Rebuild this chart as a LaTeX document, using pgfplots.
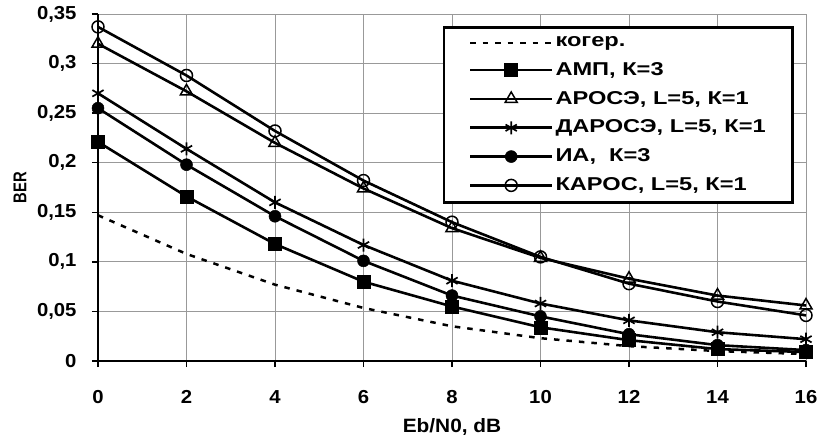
\documentclass[border=0pt]{standalone}
\usepackage{fontspec}
\setmainfont{Liberation Sans}
\newfontfamily\tickfont[FakeStretch=1.08]{Liberation Sans}
\newfontfamily\legfont[FakeStretch=1.27]{Liberation Sans}
\newfontfamily\berfont[FakeStretch=0.8]{Liberation Sans}
\usepackage{pgfplots}
\pgfplotsset{compat=1.18}
\newcommand\fA{\tickfont\fontsize{18.8bp}{22bp}\selectfont\bfseries}
\newcommand\fX{\tickfont\fontsize{19.3bp}{22bp}\selectfont\bfseries}
\newcommand\fL{\legfont\fontsize{18.6bp}{22bp}\selectfont\bfseries}
\newcommand\fB{\berfont\fontsize{18.5bp}{22bp}\selectfont\bfseries}
\begin{document}
\fA
\begin{tikzpicture}
\useasboundingbox (-98bp,-83bp) rectangle (722bp,361bp);
\begin{axis}[
  scale only axis, width=708bp, height=347bp,
  at={(0,0)}, anchor=south west,
  xmin=0, xmax=16, ymin=0, ymax=0.35,
  xtick={0,2,...,16},
  xticklabels={0,2,4,6,8,10,12,14,16},
  ytick={0,0.05,0.1,0.15,0.2,0.25,0.3,0.35},
  yticklabels={0,{0,05},{0,1},{0,15},{0,2},{0,25},{0,3},{0,35}},
  ticklabel style={font=\fA},
  grid=major, major grid style={gray!80, line width=1pt},
  axis x line*=bottom, axis y line*=left,
  axis line style={line width=2.7pt, -},
  tick style={black, line width=1.3pt},
  tick align=outside, major tick length=6bp,
  xticklabel style={yshift=-17bp},
  yticklabel style={xshift=-9bp},
  xlabel={Eb/N0, dB}, ylabel={BER},
  xlabel style={at={(axis description cs:0.5,-0.190)}, anchor=center, font=\fX},
  ylabel style={at={(axis description cs:-0.110,0.5)}, anchor=center, font=\fB},
  legend style={at={(rel axis cs:0.983,0.965)}, anchor=north east,
    draw=black, line width=2.5pt, fill=white,
    font=\fL,
    row sep=11bp, inner xsep=25bp, inner ysep=8bp,
    nodes={inner xsep=2bp, inner ysep=1bp}},
  legend cell align=left,
  legend image code/.code={\draw[mark repeat=2,mark phase=2,#1] plot coordinates {(0bp,0bp) (41bp,0bp) (82bp,0bp)};},
]
\addplot[black, line width=2.5pt, dash pattern=on 5.5bp off 7bp] coordinates {
 (0,0.147) (2,0.108) (4,0.077) (6,0.0535) (8,0.035) (10,0.023) (12,0.015) (14,0.010) (16,0.007)};
\addlegendentry{когер.}
\addplot[black, line width=2.6pt, mark=square*, mark size=6.5bp, mark options={solid, line width=0.5pt}] coordinates {
 (0,0.221) (2,0.166) (4,0.118) (6,0.080) (8,0.055) (10,0.034) (12,0.021) (14,0.012) (16,0.009)};
\addlegendentry{АМП, К=3}
\addplot[black, line width=2.6pt, mark=triangle, mark size=7bp, mark options={solid, line width=1.5pt}] coordinates {
 (0,0.320) (2,0.272) (4,0.220) (6,0.174) (8,0.134) (10,0.104) (12,0.083) (14,0.066) (16,0.056)};
\addlegendentry{АРОСЭ, L=5, К=1}
\addplot[black, line width=2.6pt, mark=asterisk, mark size=6.5bp, mark options={solid, line width=1.7pt}] coordinates {
 (0,0.270) (2,0.214) (4,0.160) (6,0.117) (8,0.081) (10,0.058) (12,0.041) (14,0.029) (16,0.022)};
\addlegendentry{ДАРОСЭ, L=5, К=1}
\addplot[black, line width=2.6pt, mark=*, mark size=6bp, mark options={solid, line width=0.5pt}] coordinates {
 (0,0.255) (2,0.198) (4,0.146) (6,0.101) (8,0.066) (10,0.045) (12,0.027) (14,0.016) (16,0.011)};
\addlegendentry{ИА,\ \ К=3}
\addplot[black, line width=2.6pt, mark=o, mark size=6bp, mark options={solid, line width=1.5pt, fill=white}] coordinates {
 (0,0.337) (2,0.288) (4,0.232) (6,0.182) (8,0.140) (10,0.105) (12,0.078) (14,0.060) (16,0.046)};
\addlegendentry{КАРОС, L=5, К=1}
\end{axis}
\end{tikzpicture}
\end{document}
